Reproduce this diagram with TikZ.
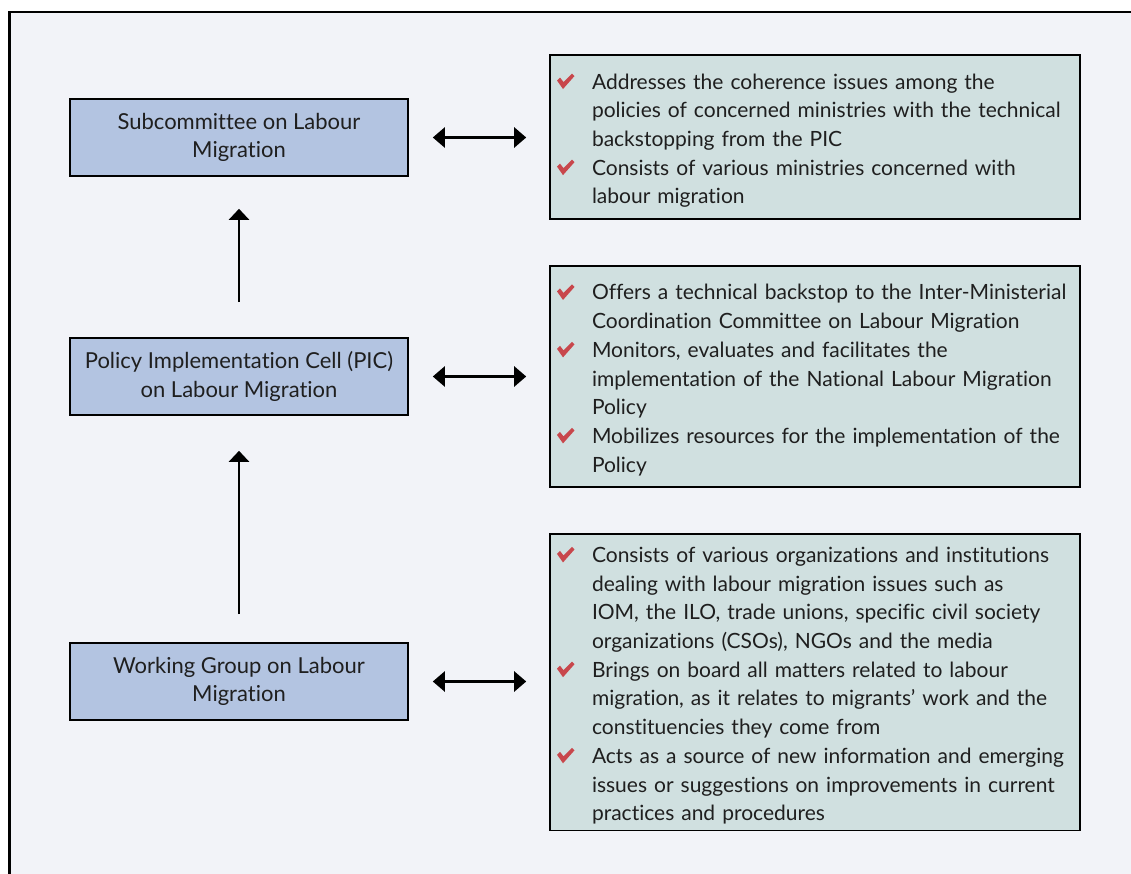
\documentclass[tikz,border=0pt]{standalone}
\usepackage{fontspec}
\setmainfont{Lato}[Ligatures={NoCommon,NoContextual}]
\usetikzlibrary{arrows.meta}
\definecolor{bgc}{HTML}{F2F3F8}
\definecolor{leftc}{HTML}{B3C4E1}
\definecolor{rightc}{HTML}{D0E0E0}
\definecolor{chkred}{HTML}{C8474C}
\newsavebox\chkbox
\sbox\chkbox{\tikz[x=1pt,y=1pt]\fill[chkred] (0,8.5)--(3,11.5)--(6.5,7)--(15,15.5)--(17.5,13)--(6,0)--cycle;}
\newcommand\citem{\par\noindent\hangindent=35pt\hangafter=1\makebox[35pt][l]{\usebox\chkbox}}
\newcommand\cend{\par\vspace*{6pt}}
\begin{document}
\begin{tikzpicture}[x=1pt,y=-1pt,
  rtxt/.style={font=\fontsize{21}{28.7}\selectfont, text=black!88},
  ltxt/.style={font=\fontsize{22}{28.7}\selectfont, text=black!88},
  lbox/.style={ltxt, draw=black, line width=1.6pt, fill=leftc, minimum width=338pt,
    minimum height=77pt, align=center, inner sep=0pt},
  rbox/.style={rtxt, draw=black, line width=1.6pt, fill=rightc, text width=516pt,
    inner xsep=7pt, inner ysep=0pt, align=left},
  arr/.style={line width=2.4pt, -{Triangle[width=20pt,length=11pt]}},
  darr/.style={line width=2.4pt, {Triangle[width=20pt,length=12pt]}-{Triangle[width=20pt,length=12pt]}}]
\useasboundingbox (0,0) rectangle (1131,874);
\clip (0,0) rectangle (1131,874);
\fill[white] (0,0) rectangle (1131,874);
\draw[line width=2.5pt, fill=bgc] (9.5,12) rectangle (1150,900);

\node[lbox] (b1) at (239,137.5) {Subcommittee on Labour\\Migration};
\node[lbox] (b2) at (239,376.5) {Policy Implementation Cell (PIC)\\on Labour Migration};
\node[lbox] (b3) at (239,681.5) {Working Group on Labour\\Migration};

\node[rbox, minimum height=164pt] (r1) at (815,137) {%
\citem Addresses the coherence issues among the\newline
policies of concerned ministries with the technical\newline
backstopping from the PIC
\citem Consists of various ministries concerned with\newline
labour migration\cend};

\node[rbox, minimum height=221pt] (r2) at (815,376.5) {%
\citem Offers a technical backstop to the Inter-Ministerial\newline
Coordination Committee on Labour Migration
\citem Monitors, evaluates and facilitates the\newline
implementation of the National Labour Migration\newline
Policy
\citem Mobilizes resources for the implementation of the\newline
Policy\cend};

\node[rbox, minimum height=296pt] (r3) at (815,682) {%
\citem Consists of various organizations and institutions\newline
dealing with labour migration issues such as\newline
IOM, the ILO, trade unions, specific civil society\newline
organizations (CSOs), NGOs and the media
\citem Brings on board all matters related to labour\newline
migration, as it relates to migrants’ work and the\newline
constituencies they come from
\citem Acts as a source of new information and emerging\newline
issues or suggestions on improvements in current\newline
practices and procedures\cend};

\draw[darr, shorten <=24pt, shorten >=23pt] (b1.east) -- (b1.east -| r1.west);
\draw[darr, shorten <=24pt, shorten >=23pt] (b2.east) -- (b2.east -| r2.west);
\draw[darr, shorten <=24pt, shorten >=23pt] (b3.east) -- (b3.east -| r3.west);
\draw[arr, shorten <=35pt, shorten >=32pt] (b2.north) -- (b1.south);
\draw[arr, shorten <=28pt, shorten >=35pt] (b3.north) -- (b2.south);
\end{tikzpicture}
\end{document}
